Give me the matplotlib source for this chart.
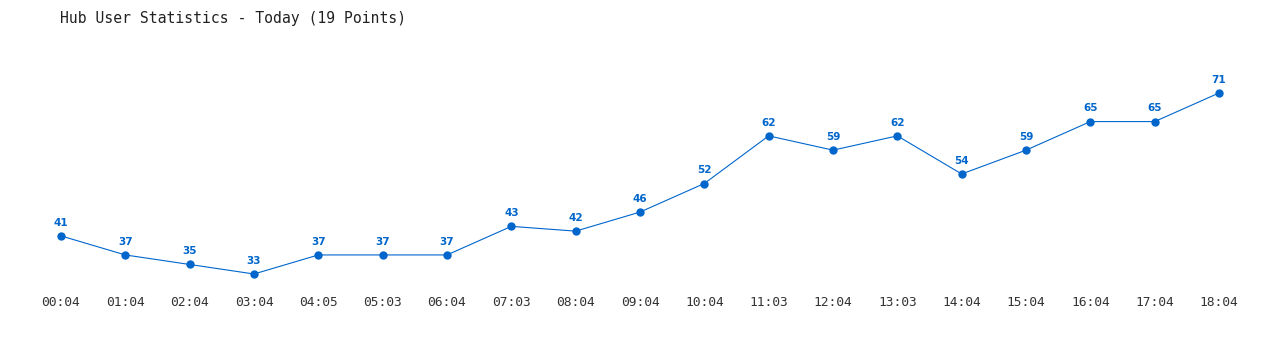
import matplotlib
matplotlib.use("Agg")
import matplotlib.pyplot as plt

times = ["00:04", "01:04", "02:04", "03:04", "04:05", "05:03", "06:04", "07:03", "08:04", "09:04",
         "10:04", "11:03", "12:04", "13:03", "14:04", "15:04", "16:04", "17:04", "18:04"]
users = [41, 37, 35, 33, 37, 37, 37, 43, 42, 46, 52, 62, 59, 62, 54, 59, 65, 65, 71]
title = "Hub User Statistics - Today (19 Points)"

W, H = 1280, 350
fig = plt.figure(figsize=(W / 100, H / 100), dpi=100)
# axes spans from first to last point horizontally, min to max value vertically
left, right = 61 / W, 1219 / W
bottom, top = (H - 274) / H, (H - 93) / H
ax = fig.add_axes([left, bottom, right - left, top - bottom])
color = "#0066cc"
x = list(range(len(users)))
ax.plot(x, users, color=color, lw=0.8, marker="o", ms=5, clip_on=False)
for xi, v in zip(x, users):
    ax.annotate(str(v), (xi, v), xytext=(0, 6), textcoords="offset points",
                ha="center", va="bottom", fontsize=7.5, fontweight="bold",
                color=color, family="DejaVu Sans")
ax.set_xlim(0, len(users) - 1)
ax.set_ylim(min(users), max(users))
ax.set_xticks(x)
ax.set_xticklabels(times, family="DejaVu Sans Mono", fontsize=9.3, color="#333333")
ax.tick_params(axis="x", length=0, pad=16)
ax.set_yticks([])
for s in ax.spines.values():
    s.set_visible(False)
fig.text(60 / W, 1 - 18 / H, title, family="DejaVu Sans Mono", fontsize=10.6,
         color="#222222", ha="left", va="center")
fig.savefig("out.png", dpi=100, facecolor="white")
